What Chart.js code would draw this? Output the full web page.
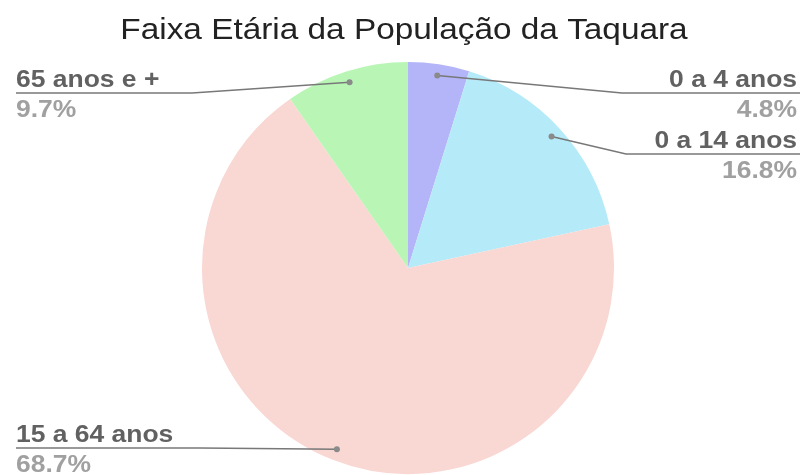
<!DOCTYPE html>
<html>
<head>
<meta charset="utf-8">
<script src="https://cdn.jsdelivr.net/npm/chart.js@4"></script>
<style>
  html, body { margin: 0; padding: 0; background: #ffffff; }
  canvas { display: block; }
</style>
</head>
<body>
<canvas id="c" width="800" height="475"></canvas>
<script>
// Age distribution of the Taquara population
const chartTitle = 'Faixa Etária da População da Taquara';
const ageGroups = ['0 a 4 anos', '0 a 14 anos', '15 a 64 anos', '65 anos e +'];
const shares = [4.8, 16.8, 68.7, 9.7];
const sliceColors = ['#b4b5f8', '#b5ebf8', '#f9d7d3', '#b9f6b6'];

// Where each outside label sits: side of the chart and height of its underline
const labelLayout = [
  { side: 'right', lineY: 93, kneeX: 622 },
  { side: 'right', lineY: 154, kneeX: 626 },
  { side: 'left', lineY: 448, kneeX: 200 },
  { side: 'left', lineY: 93, kneeX: 192 }
];

const FONT = '"Liberation Sans", Arial, sans-serif';
const TEXT_STRETCH = 1.15; // slightly widened lettering

function drawText(ctx, text, x, y, align, font, color) {
  ctx.save();
  ctx.font = font;
  ctx.fillStyle = color;
  ctx.textBaseline = 'alphabetic';
  ctx.textAlign = align;
  ctx.translate(x, y);
  ctx.scale(TEXT_STRETCH, 1);
  ctx.fillText(text, 0, 0);
  ctx.restore();
}

const titleAndLabels = {
  id: 'titleAndLabels',
  afterDraw(chart) {
    const ctx = chart.ctx;
    ctx.save();
    drawText(ctx, chartTitle, 404, 39, 'center', '29px ' + FONT, '#222222');

    const meta = chart.getDatasetMeta(0);
    const total = shares.reduce((a, b) => a + b, 0);
    meta.data.forEach((arc, i) => {
      const p = arc.getProps(['x', 'y', 'startAngle', 'endAngle', 'outerRadius'], true);
      const mid = (p.startAngle + p.endAngle) / 2;
      const dx = p.x + Math.cos(mid) * p.outerRadius * 0.945;
      const dy = p.y + Math.sin(mid) * p.outerRadius * 0.945;
      const lay = labelLayout[i];
      const endX = lay.side === 'right' ? 800 : 16;

      // leader line
      ctx.strokeStyle = '#787878';
      ctx.lineWidth = 1.6;
      ctx.beginPath();
      ctx.moveTo(dx, dy);
      ctx.lineTo(lay.kneeX, lay.lineY);
      ctx.lineTo(endX, lay.lineY);
      ctx.stroke();

      // dot
      ctx.fillStyle = '#8a8a8a';
      ctx.beginPath();
      ctx.arc(dx, dy, 3, 0, Math.PI * 2);
      ctx.fill();

      // label text
      const tx = lay.side === 'right' ? 797 : 16;
      const align = lay.side === 'right' ? 'right' : 'left';
      drawText(ctx, ageGroups[i], tx, lay.lineY - 6, align, 'bold 23px ' + FONT, '#616161');
      const pct = (shares[i] / total * 100).toFixed(1) + '%';
      drawText(ctx, pct, tx, lay.lineY + 24, align, 'bold 23px ' + FONT, '#a0a0a0');
    });
    ctx.restore();
  }
};

new Chart(document.getElementById('c'), {
  type: 'pie',
  data: {
    labels: ageGroups,
    datasets: [{
      data: shares,
      backgroundColor: sliceColors,
      borderWidth: 0
    }]
  },
  options: {
    responsive: false,
    animation: false,
    devicePixelRatio: 1,
    layout: { padding: { left: 202, right: 186, top: 62, bottom: 1 } },
    plugins: {
      legend: { display: false },
      title: { display: false },
      tooltip: { enabled: false }
    }
  },
  plugins: [titleAndLabels]
});
</script>
</body>
</html>
